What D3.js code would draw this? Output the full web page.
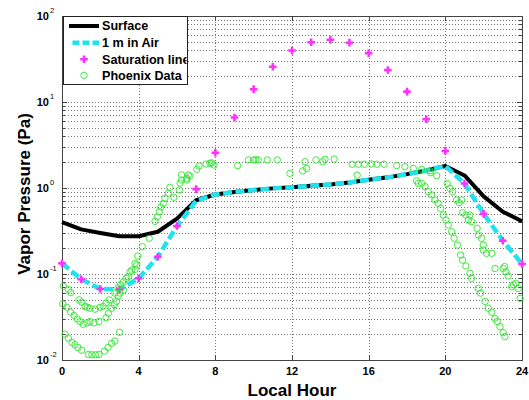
<!DOCTYPE html>
<html lang="en">
<head>
<meta charset="UTF-8">
<script src="https://cdnjs.cloudflare.com/ajax/libs/d3/7.8.4/d3.min.js"></script>
<title>Vapor Pressure</title>
<style>
  body { margin: 0; background: #fff; }
  text { font-family: "Liberation Sans", Arial, sans-serif; }
</style>
</head>
<body>
<script>
// ---- data ----
const hours = [0, 1, 2, 3, 4, 5, 6, 7, 8, 9, 10, 11, 12, 13, 14, 15, 16, 17, 18, 19, 20, 21, 22, 23, 24]
const surface = [0.40, 0.33, 0.30, 0.275, 0.275, 0.31, 0.44, 0.72, 0.84, 0.90, 0.95, 0.99, 1.02, 1.06, 1.10, 1.16, 1.25, 1.33, 1.45, 1.60, 1.80, 1.40, 0.80, 0.53, 0.41]
const airOneMeter = [0.133, 0.087, 0.067, 0.066, 0.089, 0.159, 0.36, 0.71, 0.84, 0.90, 0.95, 0.99, 1.02, 1.06, 1.10, 1.16, 1.25, 1.33, 1.45, 1.60, 1.80, 1.13, 0.50, 0.244, 0.131]
const saturation = [0.133, 0.087, 0.067, 0.066, 0.089, 0.159, 0.361, 0.97, 2.57, 6.6, 14.1, 25.7, 39.6, 49.6, 53, 49, 37, 23.6, 13.2, 6.3, 2.7, 1.13, 0.50, 0.244, 0.131]
// Phoenix measurements [hour, Pa]
const phoenix = [
  [0.07,0.072],[0.33,0.066],[0.45,0.061],[0.89,0.050],[1.03,0.047],[1.20,0.042],[1.32,0.041],[1.46,0.040],
  [1.72,0.039],[1.98,0.041],[2.15,0.042],[2.30,0.046],[2.47,0.050],[2.76,0.060],[2.92,0.069],[3.06,0.075],
  [3.20,0.081],[3.34,0.089],[3.46,0.093],[3.55,0.106],[3.64,0.111],[3.81,0.113],[3.81,0.133],[3.90,0.127],
  [3.95,0.162],[4.19,0.208],[4.55,0.26],[4.85,0.41],[4.97,0.46],[5.08,0.53],[5.16,0.60],[5.28,0.66],
  [5.37,0.76],[5.55,0.87],[5.63,1.02],[5.84,0.78],[6.12,0.95],[6.16,1.14],[6.24,1.24],[6.24,1.42],
  [6.51,1.24],[6.51,1.30],[6.59,1.42],[6.68,1.38],[7.03,1.65],[7.15,1.80],[7.51,1.90],[7.72,1.94],
  [7.81,1.96],[7.93,1.85],
  [0.04,0.045],[0.25,0.041],[0.45,0.036],[0.63,0.033],[0.80,0.030],[0.94,0.028],[1.11,0.026],[1.30,0.027],
  [1.46,0.028],[1.67,0.027],[1.93,0.028],[2.30,0.031],[2.42,0.035],[2.59,0.040],[2.73,0.044],[2.85,0.048],
  [2.94,0.055],[3.03,0.060],[3.20,0.065],
  [0.16,0.020],[0.33,0.018],[0.52,0.016],[0.68,0.015],[0.83,0.014],[1.03,0.013],[1.38,0.0116],[1.56,0.0115],
  [1.75,0.0115],[1.93,0.0116],[2.22,0.0127],[2.40,0.014],[2.59,0.0156],[2.76,0.0166],[3.00,0.021],
  [9.16,1.82],[9.72,2.12],[10.0,2.12],[10.12,2.12],[10.24,2.12],[10.71,2.12],[11.23,2.12],[11.89,1.48],
  [12.56,1.58],[12.68,2.02],[12.76,1.69],[13.25,2.12],[13.6,2.02],[13.72,2.16],[14.2,2.17],[15.14,1.89],
  [15.4,1.41],[15.46,1.89],[15.77,1.89],[16.16,1.90],[16.42,1.89],[16.80,1.89],[17.46,1.82],[17.89,1.77],
  [18.33,1.69],[18.76,1.65],[19.2,1.59],[19.23,1.51],[19.55,1.39],
  [18.5,1.21],[18.59,1.13],[18.76,1.13],[18.94,1.04],[19.11,0.905],[19.29,0.83],[19.46,0.725],[19.63,0.664],
  [19.75,0.58],[19.89,0.485],[20.03,0.424],[20.15,0.371],[20.33,0.31],[20.46,0.26],[20.64,0.217],[20.8,0.166],
  [20.9,0.145],[21.07,0.124],[21.28,0.102],[21.37,0.089],[21.72,0.068],[21.84,0.060],[22.07,0.048],[22.24,0.040],
  [22.42,0.036],[22.59,0.0305],[22.71,0.028],[22.85,0.0244],[23.02,0.0208],[23.11,0.0187],
  [20.1,1.13],[20.24,0.99],[20.38,0.905],[20.59,0.725],[20.73,0.675],[20.85,0.725],[20.9,0.516],[21.07,0.485],
  [21.28,0.485],[21.2,0.424],[21.37,0.406],[21.66,0.34],[21.72,0.284],[21.89,0.26],[21.98,0.217],[21.98,0.19],
  [22.15,0.174],[22.42,0.174],
  [22.59,0.116],[23.02,0.116],[23.09,0.122],[23.16,0.106],[23.28,0.095],[23.46,0.071],[23.55,0.075],[23.68,0.078],
  [23.8,0.068],[23.9,0.052]
]
const xTicks = [0, 4, 8, 12, 16, 20, 24]
const yDecades = [0.01, 0.1, 1, 10, 100]
const yExponents = ["-2", "-1", "0", "1", "2"]
const legendNames = ["Surface", "1 m in Air", "Saturation line", "Phoenix Data"]

const W = 529, H = 400
const pLeft = 62, pRight = 522, pTop = 16, pBottom = 360

const svg = d3.select("body").append("svg")
  .attr("width", W)
  .attr("height", H)

const x = d3.scaleLinear().domain([0, 24]).range([pLeft, pRight])
const y = d3.scaleLog().domain([0.01, 100]).range([pBottom, pTop])

// grid
const grid = svg.append("g").attr("stroke", "#777").attr("stroke-width", 1).attr("stroke-dasharray", "1,2")
grid.selectAll("line.ym").data(y.ticks()).enter().append("line")
  .attr("x1", pLeft).attr("x2", pRight)
  .attr("y1", d => Math.round(y(d)) + 0.5).attr("y2", d => Math.round(y(d)) + 0.5)
grid.selectAll("line.xg").data(xTicks.slice(1, -1)).enter().append("line")
  .attr("x1", d => Math.round(x(d)) + 0.5).attr("x2", d => Math.round(x(d)) + 0.5)
  .attr("y1", pTop).attr("y2", pBottom)

// axes box + ticks (matlab style, inward)
const axisG = svg.append("g").attr("stroke", "#444").attr("stroke-width", 1)
axisG.append("rect").attr("x", pLeft + 0.5).attr("y", pTop + 0.5)
  .attr("width", pRight - pLeft).attr("height", pBottom - pTop).attr("fill", "none")
xTicks.forEach(t => {
  const px = Math.round(x(t)) + 0.5
  axisG.append("line").attr("x1", px).attr("x2", px).attr("y1", pBottom).attr("y2", pBottom - 5)
  axisG.append("line").attr("x1", px).attr("x2", px).attr("y1", pTop).attr("y2", pTop + 5)
})
y.ticks().forEach(v => {
  const py = Math.round(y(v)) + 0.5
  const len = yDecades.indexOf(v) >= 0 ? 5 : 3
  axisG.append("line").attr("x1", pLeft).attr("x2", pLeft + len).attr("y1", py).attr("y2", py)
  axisG.append("line").attr("x1", pRight).attr("x2", pRight - len).attr("y1", py).attr("y2", py)
})

// tick labels
svg.append("g").selectAll("text").data(xTicks).enter().append("text")
  .attr("x", d => x(d)).attr("y", 375)
  .attr("text-anchor", "middle")
  .attr("font-size", 11).attr("font-weight", "bold")
  .text(d => d)

const yl = svg.append("g")
yDecades.forEach((v, i) => {
  const py = y(v)
  yl.append("text").attr("x", 49).attr("y", py + 4)
    .attr("text-anchor", "end").attr("font-size", 11).attr("font-weight", "bold")
    .text("10")
  yl.append("text").attr("x", 50).attr("y", py - 3)
    .attr("font-size", 7.5)
    .text(yExponents[i])
})

// axis titles
svg.append("text").attr("x", (pLeft + pRight) / 2).attr("y", 396)
  .attr("text-anchor", "middle").attr("font-size", 17).attr("font-weight", "bold")
  .text("Local Hour")
svg.append("text").attr("transform", `translate(30, ${(pTop + pBottom) / 2 + 6}) rotate(-90)`)
  .attr("text-anchor", "middle").attr("font-size", 17).attr("font-weight", "bold")
  .text("Vapor Pressure (Pa)")

// series
const line = d3.line().x(d => x(d[0])).y(d => y(d[1]))
const cyan = "#1fe3ee", magenta = "#ff30ff", green = "#2ee62e"

svg.append("path").datum(hours.map((h, i) => [h, surface[i]]))
  .attr("d", line).attr("fill", "none").attr("stroke", "#000").attr("stroke-width", 4)
  .attr("stroke-linejoin", "round")
svg.append("path").datum(hours.map((h, i) => [h, airOneMeter[i]]))
  .attr("d", line).attr("fill", "none").attr("stroke", cyan).attr("stroke-width", 4.5)
  .attr("stroke-dasharray", "9,3.5")

const cross = d3.symbol().type(d3.symbolCross).size(32)
svg.append("g").selectAll("path").data(hours.map((h, i) => [h, saturation[i]])).enter().append("path")
  .attr("d", cross)
  .attr("transform", d => `translate(${x(d[0])},${y(d[1])})`)
  .attr("fill", magenta)

svg.append("g").selectAll("circle").data(phoenix).enter().append("circle")
  .attr("cx", d => x(d[0])).attr("cy", d => y(d[1])).attr("r", 3.2)
  .attr("fill", "none").attr("stroke", green).attr("stroke-width", 0.9)

// legend
const lg = svg.append("g")
lg.append("rect").attr("x", 63.5).attr("y", 16.5).attr("width", 124).attr("height", 68)
  .attr("fill", "#fff").attr("stroke", "#222").attr("stroke-width", 1)
svg.append("clipPath").attr("id", "lgclip").append("rect")
  .attr("x", 63).attr("y", 16).attr("width", 123.5).attr("height", 68)
const rowsY = [26, 42.7, 59.3, 75.3]
lg.append("line").attr("x1", 69).attr("x2", 99).attr("y1", rowsY[0]).attr("y2", rowsY[0])
  .attr("stroke", "#000").attr("stroke-width", 4)
lg.append("line").attr("x1", 72.5).attr("x2", 99).attr("y1", rowsY[1]).attr("y2", rowsY[1])
  .attr("stroke", cyan).attr("stroke-width", 4.5).attr("stroke-dasharray", "7,3")
lg.append("path").attr("d", cross).attr("transform", `translate(84,${rowsY[2]})`).attr("fill", magenta)
lg.append("circle").attr("cx", 84).attr("cy", rowsY[3]).attr("r", 3.2)
  .attr("fill", "none").attr("stroke", green).attr("stroke-width", 0.9)
lg.append("g").attr("clip-path", "url(#lgclip)").selectAll("text").data(legendNames).enter().append("text")
  .attr("x", 102).attr("y", (d, i) => rowsY[i] + 4.4)
  .attr("font-size", 12.6).attr("font-weight", "bold")
  .text(d => d)
</script>
</body>
</html>
